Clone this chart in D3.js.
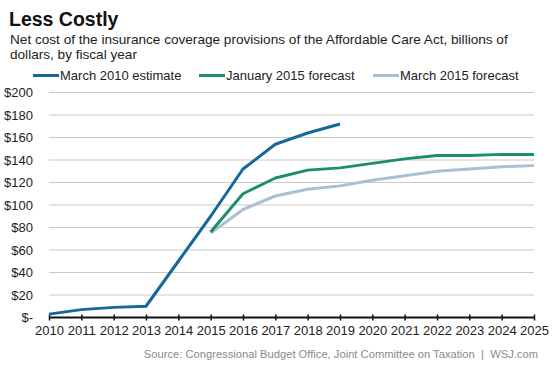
<!DOCTYPE html>
<html>
<head>
<meta charset="utf-8">
<script src="https://cdn.jsdelivr.net/npm/d3@7"></script>
<style>
  html, body { margin: 0; padding: 0; background: #fff; }
  svg { display: block; font-family: "Liberation Sans", Arial, sans-serif; }
</style>
</head>
<body>
<svg id="chart" width="553" height="369"></svg>
<script>
const years = [2010,2011,2012,2013,2014,2015,2016,2017,2018,2019,2020,2021,2022,2023,2024,2025];
const march2010Years = [2010,2011,2012,2013,2014,2015,2016,2017,2018,2019];
const march2010Values = [3,7,9,10,50,90,132,154,164,172];
const forecastYears = [2015,2016,2017,2018,2019,2020,2021,2022,2023,2024,2025];
const jan2015Values = [76,110,124,131,133,137,141,144,144,145,145];
const mar2015Values = [75,96,108,114,117,122,126,130,132,134,135];
const yTicks = [0,20,40,60,80,100,120,140,160,180,200];
const seriesNames = ["March 2010 estimate","January 2015 forecast","March 2015 forecast"];
const seriesColors = ["#17689a","#1b9163","#a9bfd4"];

const svg = d3.select("#chart");
const x = d3.scaleLinear().domain([2010,2025]).range([49,534]);
const y = d3.scaleLinear().domain([0,200]).range([317.5,92.5]);

// Title & subtitle
svg.append("text").attr("x",9).attr("y",26).attr("font-size",19.5).attr("font-weight","bold").attr("fill","#111").text("Less Costly");
svg.append("text").attr("x",10).attr("y",44).attr("font-size",13.6).attr("fill","#222").text("Net cost of the insurance coverage provisions of the Affordable Care Act, billions of");
svg.append("text").attr("x",10).attr("y",59).attr("font-size",13.6).attr("fill","#222").text("dollars, by fiscal year");

// Legend
const legX = [33,199,373];
seriesNames.forEach((n,i)=>{
  svg.append("line").attr("x1",legX[i]).attr("x2",legX[i]+26).attr("y1",75.5).attr("y2",75.5)
    .attr("stroke",seriesColors[i]).attr("stroke-width",3);
  svg.append("text").attr("x",legX[i]+27).attr("y",79.5).attr("font-size",13).attr("fill","#222").text(n);
});

// Gridlines
svg.append("g").selectAll("line").data(yTicks.filter(d=>d>0)).join("line")
  .attr("x1",49).attr("x2",534).attr("y1",d=>y(d)).attr("y2",d=>y(d))
  .attr("stroke","#c9c9c9").attr("stroke-width",1);

// Y labels
svg.append("g").selectAll("text").data(yTicks).join("text")
  .attr("x",33).attr("y",d=>y(d)+4.5).attr("text-anchor","end").attr("font-size",13).attr("fill","#222")
  .text(d=> d===0 ? "$-" : "$"+d);

// X axis
const xAxis = d3.axisBottom(x).tickValues(years).tickFormat(d3.format("d")).tickSize(4).tickPadding(4);
const gx = svg.append("g").attr("transform","translate(0,317.5)").call(xAxis);
gx.select(".domain").attr("stroke","#111").attr("stroke-width",2).attr("d","M49,0H534");
gx.selectAll(".tick line").attr("stroke","#111").attr("stroke-width",1.5).attr("y1",-3).attr("y2",3);
gx.selectAll(".tick text").attr("font-size",13).attr("fill","#222").attr("font-family","Liberation Sans, Arial, sans-serif");

// Lines
const line = d3.line().x(d=>x(d[0])).y(d=>y(d[1]));
const series = [
  march2010Years.map((yr,i)=>[yr,march2010Values[i]]),
  forecastYears.map((yr,i)=>[yr,jan2015Values[i]]),
  forecastYears.map((yr,i)=>[yr,mar2015Values[i]])
];
[2,1,0].forEach(i=>{
  svg.append("path").attr("d",line(series[i])).attr("fill","none")
    .attr("stroke",seriesColors[i]).attr("stroke-width",3).attr("stroke-linejoin","round");
});

// Source
svg.append("text").attr("x",538).attr("y",358).attr("text-anchor","end").attr("font-size",11.2).attr("fill","#8a8a8a")
  .style("white-space","pre")
  .text("Source: Congressional Budget Office, Joint Committee on Taxation  |  WSJ.com");
</script>
</body>
</html>
